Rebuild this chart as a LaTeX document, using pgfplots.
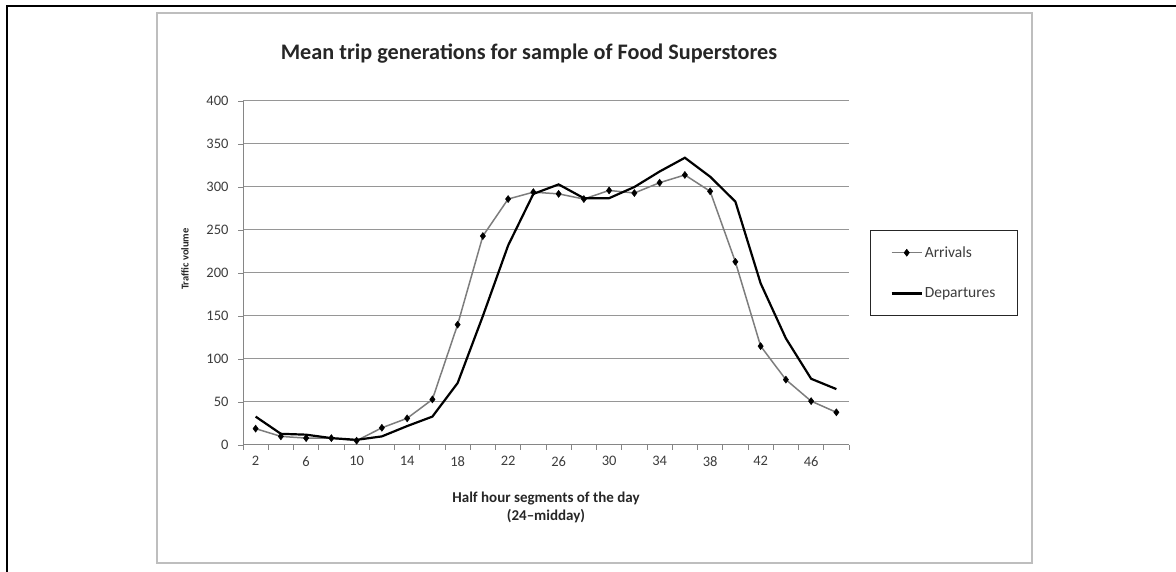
\documentclass[border=0pt]{standalone}
\usepackage{fontspec}
\setmainfont{Carlito}
\usepackage{pgfplots}
\pgfplotsset{compat=1.18}
\definecolor{arrgray}{RGB}{125,125,125}
\definecolor{gridgray}{RGB}{150,150,150}
\definecolor{axgray}{RGB}{134,134,134}
\definecolor{txtgray}{RGB}{60,60,60}
\definecolor{framegray}{RGB}{190,190,190}
\begin{document}
\begin{tikzpicture}[x=1pt,y=1pt]
\useasboundingbox (0,0) rectangle (1176,572);
\draw[line width=2.5pt] (7,0) -- (7,566) -- (1176,566);
\draw[framegray, line width=1.5pt] (157,9) rectangle (1032,559);
\begin{axis}[
  at={(243pt,127pt)}, anchor=south west, scale only axis,
  width=606pt, height=344pt,
  xmin=1, xmax=49, ymin=0, ymax=400,
  axis x line*=bottom, axis y line*=left,
  axis line style={-, axgray, line width=1pt},
  /pgf/number format/assume math mode=true,
  xtick={1,3,...,49}, xticklabels={},
  extra x ticks={2,6,10,14,18,22,26,30,34,38,42,46},
  extra x tick labels={2,6,10,14,18,22,26,30,34,38,42,46},
  extra x tick style={major tick length=0pt},
  ytick={0,50,...,400},
  tick align=outside, major tick length=5pt,
  tick style={axgray, line width=0.8pt},
  ymajorgrids, grid style={gridgray, line width=1pt},
  tick label style={font=\fontsize{14.5}{16}\selectfont, text=txtgray},
  xticklabel style={yshift=-8pt},
  yticklabel style={xshift=-6pt},
  legend style={at={(1.0347,0.625)}, anchor=north west, draw=black!85, line width=1.2pt, fill=white,
    font=\fontsize{15.5}{18}\selectfont, text=txtgray, row sep=25pt, inner xsep=20pt, inner ysep=14pt,
    cells={anchor=west}},
  legend image code/.code={\draw[mark repeat=2,mark phase=2,#1] plot coordinates {(0pt,0pt) (15pt,0pt) (30pt,0pt)};},
]
\addplot[arrgray, line width=1.5pt, mark=diamond*, mark size=3.5pt, mark options={black, fill=black, line width=0.5pt}] coordinates {
(2,19) (4,10) (6,8) (8,8) (10,5) (12,20) (14,31) (16,53) (18,140) (20,243) (22,286) (24,294) (26,292) (28,286) (30,296) (32,293) (34,305) (36,314) (38,295) (40,213) (42,115) (44,76) (46,51) (48,38)};
\addlegendentry{Arrivals}
\addplot[black, line width=2.2pt, no marks] coordinates {
(2,33) (4,13) (6,12) (8,8) (10,6) (12,10) (14,22) (16,33) (18,72) (20,150) (22,232) (24,292) (26,303) (28,287) (30,287) (32,300) (34,318) (36,334) (38,312) (40,283) (42,188) (44,124) (46,77) (48,65)};
\addlegendentry{Departures}
\end{axis}
\node[font=\fontsize{22.2}{25}\selectfont\bfseries, text=black!85] at (529,518) {Mean trip generations for sample of Food Superstores};
\node[font=\fontsize{15}{17}\selectfont\bfseries, text=black!85] at (546,73) {Half hour segments of the day};
\node[font=\fontsize{15}{17}\selectfont\bfseries, text=black!85] at (546,56) {(24–midday)};
\node[rotate=90, font=\fontsize{10.5}{12}\selectfont\bfseries, text=black!85] at (185,313) {Traffic volume};
\end{tikzpicture}
\end{document}
